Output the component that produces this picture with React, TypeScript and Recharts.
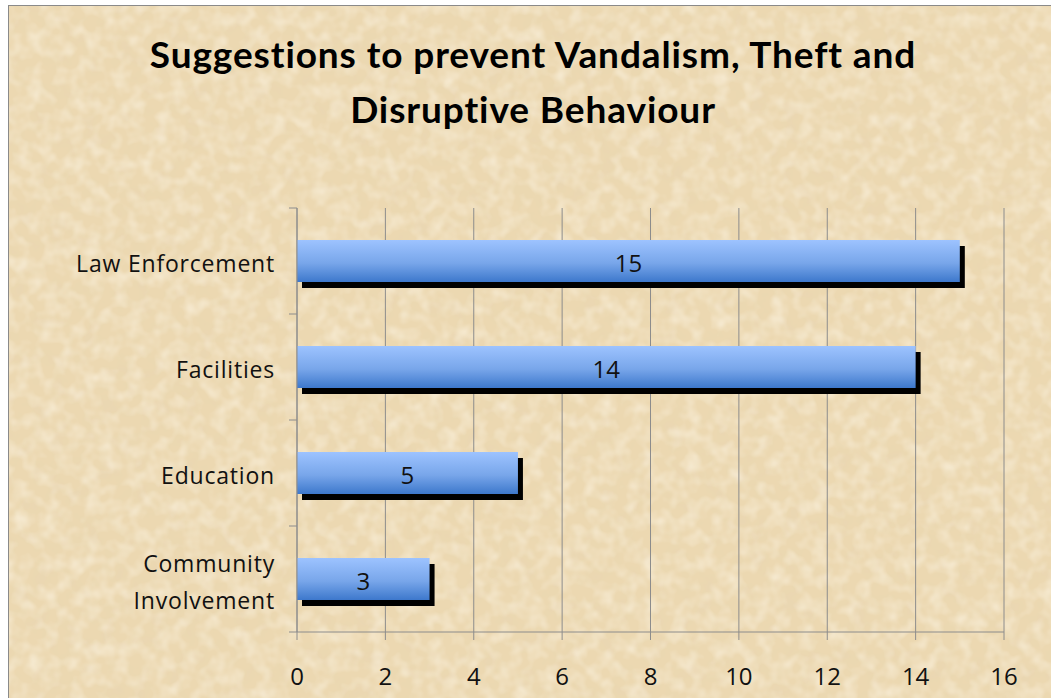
import React from "react"
import { Bar, BarChart, CartesianGrid, LabelList, XAxis, YAxis } from "recharts"

const categories = ["Law Enforcement", "Facilities", "Education", "Community Involvement"]
const counts = [15, 14, 5, 3]
const xTicks = [0, 2, 4, 6, 8, 10, 12, 14, 16]
const titleLines = ["Suggestions to prevent Vandalism, Theft and", "Disruptive Behaviour"]

const data = categories.map((name, i) => ({ name, value: counts[i] }))

const axisGray = "#8c8c8c"
const textFont = "'Open Sans', sans-serif"

function CategoryTick(props: any) {
  const { x, y, payload, index, visibleTicksCount } = props
  const half = payload.offset || 0
  const words: string[] = payload.value.length > 16 ? payload.value.split(" ") : [payload.value]
  const lineGap = 37
  const first = y + 3 - ((words.length - 1) * lineGap) / 2
  const last = index === visibleTicksCount - 1
  return (
    <g>
      <line x1={x} x2={x + 8} y1={y - half} y2={y - half} stroke={axisGray} />
      {last && <line x1={x} x2={x + 8} y1={y + half} y2={y + half} stroke={axisGray} />}
      {words.map((w, i) => (
        <text
          key={w}
          x={x - 14}
          y={first + i * lineGap}
          dy="0.35em"
          textAnchor="end"
          fontSize={23}
          letterSpacing={0.8}
          fill="#111"
          fontFamily={textFont}
        >
          {w}
        </text>
      ))}
    </g>
  )
}

function ShadowBar(props: any) {
  const { x, y, width, height } = props
  if (!width) return null
  return (
    <g>
      <rect x={x + 5} y={y + 6} width={width} height={height} fill="#000" />
      <rect x={x} y={y} width={width} height={height} fill="url(#barFill)" />
    </g>
  )
}

export default function App() {
  return (
    <div style={{ position: "absolute", left: 0, top: 0, width: 1051, height: 698, background: "#fff", overflow: "hidden" }}>
      <svg width={1051} height={698} style={{ position: "absolute", left: 0, top: 0 }}>
        <defs>
          <filter id="paper" x="0" y="0" width="100%" height="100%">
            <feTurbulence type="fractalNoise" baseFrequency="0.06" numOctaves={3} seed={7} />
            <feColorMatrix type="matrix" values="0 0 0 0 0.80  0 0 0 0 0.67  0 0 0 0 0.45  0.9 0 0 0 -0.36" />
          </filter>
          <filter id="paperLight" x="0" y="0" width="100%" height="100%">
            <feTurbulence type="fractalNoise" baseFrequency="0.07" numOctaves={2} seed={21} />
            <feColorMatrix type="matrix" values="0 0 0 0 1  0 0 0 0 0.95  0 0 0 0 0.84  1.0 0 0 0 -0.4" />
          </filter>
          <linearGradient id="barFill" x1="0" y1="0" x2="0" y2="1">
            <stop offset="0%" stopColor="#9dc3ff" />
            <stop offset="55%" stopColor="#78a6ea" />
            <stop offset="100%" stopColor="#3d78cc" />
          </linearGradient>
        </defs>
        <rect x={8.5} y={5.5} width={1100} height={800} fill="#ecd8b1" stroke="#8a8a8a" />
        <rect x={9} y={6} width={1042} height={692} filter="url(#paper)" />
        <rect x={9} y={6} width={1042} height={692} filter="url(#paperLight)" />
      </svg>
      <div
        style={{
          position: "absolute",
          left: 0,
          top: 26,
          width: 1066,
          textAlign: "center",
          fontFamily: "Lato, sans-serif",
          fontWeight: 700,
          fontSize: 37,
          letterSpacing: 0.9,
          lineHeight: "55px",
          color: "#000",
        }}
      >
        {titleLines.map((t) => (
          <div key={t}>{t}</div>
        ))}
      </div>
      <div style={{ position: "absolute", left: 0, top: 0, fontFamily: textFont }}>
        <BarChart
          layout="vertical"
          width={1051}
          height={698}
          data={data}
          margin={{ top: 208, right: 47, bottom: 0, left: 0 }}
        >
          <CartesianGrid horizontal={false} stroke={axisGray} strokeDasharray="" />
          <XAxis
            type="number"
            domain={[0, 16]}
            ticks={xTicks}
            height={66}
            tickSize={8}
            tickMargin={28}
            stroke={axisGray}
            tick={{ fill: "#111", fontSize: 24, fontFamily: textFont }}
          />
          <YAxis
            type="category"
            dataKey="name"
            width={297}
            tickLine={false}
            tickSize={8}
            tickMargin={0}
            stroke={axisGray}
            tick={<CategoryTick />}
            interval={0}
          />
          <Bar dataKey="value" barSize={42} shape={<ShadowBar />} isAnimationActive={false}>
            <LabelList dataKey="value" position="center" fill="#111" fontSize={24} fontFamily={textFont} dy={2} />
          </Bar>
        </BarChart>
      </div>
    </div>
  )
}
